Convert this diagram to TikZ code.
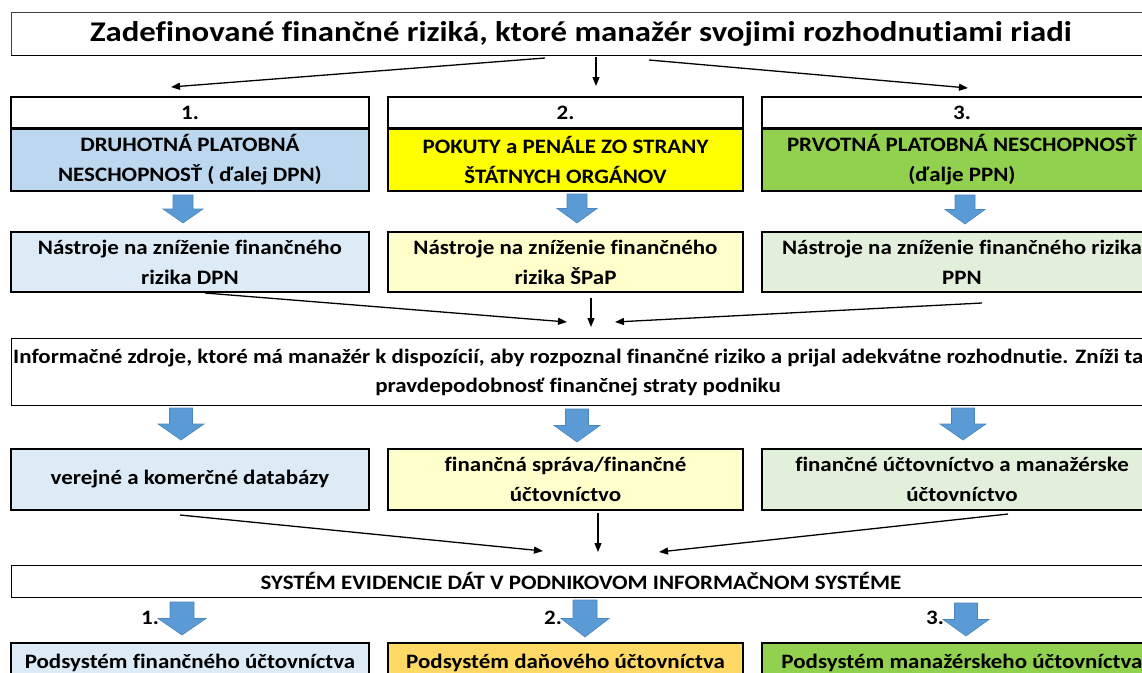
\documentclass[tikz,border=0pt]{standalone}
\usepackage{fontspec}
\setmainfont{Carlito}[Ligatures=NoCommon, FakeStretch=1.12]
\newfontfamily\headfam{Carlito}[Ligatures=NoCommon, FakeStretch=1.15]
\usetikzlibrary{arrows.meta}

\definecolor{dpnblue}{HTML}{BDD7EE}
\definecolor{spyellow}{HTML}{FFFF00}
\definecolor{ppngreen}{HTML}{92D050}
\definecolor{paleblue}{HTML}{DDEBF7}
\definecolor{paleyellow}{HTML}{FFFFCC}
\definecolor{palegreen}{HTML}{E2EFDA}
\definecolor{taxgold}{HTML}{FFD966}
\definecolor{arrowblue}{HTML}{5B9BD5}
\definecolor{arrowedge}{HTML}{4A86BE}

\newcommand{\bodyfont}{\fontsize{20.5}{30}\selectfont\bfseries}
\newcommand{\titlefont}{\headfam\fontsize{28.5}{32}\selectfont\bfseries}

% blue block arrow: centre x, top y, bottom y, head width
\newcommand{\bluearrow}[4]{%
  \filldraw[fill=arrowblue, draw=arrowedge, line width=0.6pt]
    ({#1-#4/4},#2) -- ({#1+#4/4},#2) -- ({#1+#4/4},{(#2+#3)/2})
    -- ({#1+#4/2},{(#2+#3)/2}) -- (#1,#3) -- ({#1-#4/2},{(#2+#3)/2})
    -- ({#1-#4/4},{(#2+#3)/2}) -- cycle;}

\tikzset{
  box/.style={draw=black, line width=1.5pt, inner sep=0pt, align=center, font=\bodyfont},
  widebox/.style={draw=black, line width=1pt, fill=white, inner sep=0pt, minimum width=1140},
  conn/.style={line width=1.3pt, -{Triangle[length=9pt,width=7pt]}},
}

\begin{document}
\begin{tikzpicture}[x=1pt, y=-1pt]
\useasboundingbox (0,0) rectangle (1142,672);
\clip (0,0) rectangle (1142,672);
\fill[white] (0,0) rectangle (1142,672);

% title
\node[widebox, draw=black!75, minimum height=43] (title) at (581,33.5) {};
\draw[black, line width=1.2pt] (title.south west) -- (title.south east);
\node[font=\titlefont] (titletext) at (581,34) {Zadefinované finančné riziká, ktoré manažér svojimi rozhodnutiami riadi};

% risks
\node[box, fill=white, minimum width=358, minimum height=31] (h1) at (190,112.5) {1.};
\node[box, fill=white, minimum width=355, minimum height=31] (h2) at (565.5,112.5) {2.};
\node[box, fill=white, minimum width=400, minimum height=31] (h3) at (962,112.5) {3.};
\node[box, fill=dpnblue, minimum width=358, minimum height=62] (r1) at (190,160) {DRUHOTNÁ PLATOBNÁ\\NESCHOPNOSŤ ( ďalej DPN)};
\node[box, fill=spyellow, minimum width=355, minimum height=62] (r2) at (565.5,160) {POKUTY a PENÁLE ZO STRANY\\ŠTÁTNYCH ORGÁNOV};
\node[box, fill=ppngreen, minimum width=400, minimum height=62] (r3) at (962,160) {PRVOTNÁ PLATOBNÁ NESCHOPNOSŤ\\(ďalje PPN)};

% tools
\node[box, fill=paleblue, minimum width=358, minimum height=60] (n1) at (190,262) {Nástroje na zníženie finančného\\rizika DPN};
\node[box, fill=paleyellow, minimum width=355, minimum height=60] (n2) at (565.5,262) {Nástroje na zníženie finančného\\rizika ŠPaP};
\node[box, fill=palegreen, minimum width=400, minimum height=60] (n3) at (962,262) {Nástroje na zníženie finančného rizika\\PPN};

% information sources
\node[widebox, minimum height=67] (info) at (581,371.5) {};
\node[font=\bodyfont, anchor=west, inner sep=0pt] (infoa) at (13,358) {Informačné zdroje, ktoré má manažér k dispozícií, aby rozpoznal finančné riziko a prijal adekvátne rozhodnutie. Zníži tak};
\node[font=\bodyfont, inner sep=0pt] (infob) at (578,387) {pravdepodobnosť finančnej straty podniku};

\node[box, fill=paleblue, minimum width=358, minimum height=61] (s1) at (190,479.5) {verejné a komerčné databázy};
\node[box, fill=paleyellow, minimum width=355, minimum height=61] (s2) at (565.5,479.5) {finančná správa/finančné\\účtovníctvo};
\node[box, fill=palegreen, minimum width=400, minimum height=61] (s3) at (962,479.5) {finančné účtovníctvo a manažérske\\účtovníctvo};

% data system
\node[widebox, minimum height=32, font=\bodyfont] (sys) at (581,581) {SYSTÉM EVIDENCIE DÁT V PODNIKOVOM INFORMAČNOM SYSTÉME};

\node[box, fill=paleblue, minimum width=358, minimum height=40] (p1) at (190,663) {Podsystém finančného účtovníctva};
\node[box, fill=taxgold, minimum width=355, minimum height=40] (p2) at (565.5,663) {Podsystém daňového účtovníctva};
\node[box, fill=ppngreen, minimum width=400, minimum height=40] (p3) at (962,663) {Podsystém manažérskeho účtovníctva};

\node[font=\bodyfont] (k1) at (150,618) {1.};
\node[font=\bodyfont] (k2) at (553,618) {2.};
\node[font=\bodyfont] (k3) at (935,618) {3.};

% block arrows
\bluearrow{183}{195}{223}{40}
\bluearrow{577}{194}{223}{40}
\bluearrow{965}{195}{224}{40}
\bluearrow{181}{408}{440}{46}
\bluearrow{577}{409}{442}{46}
\bluearrow{963}{408}{440}{46}
\bluearrow{182}{602}{635}{48}
\bluearrow{585}{600}{637}{48}
\bluearrow{966}{603}{636}{46}

% connectors
\coordinate (ta) at (171,87);
\coordinate (tb) at (596,86);
\coordinate (tc) at (968,88);
\draw[conn] ([xshift=-36]title.south |- 0,58) -- (ta);
\draw[conn] ([xshift=15]title.south |- 0,57) -- (tb);
\draw[conn] ([xshift=68]title.south |- 0,60) -- (tc);

\coordinate (ia) at (567,322);
\coordinate (ib) at (591,327);
\coordinate (ic) at (615,322);
\draw[conn] ([xshift=15]n1.south |- 0,293) -- (ia);
\draw[conn] ([xshift=25.5]n2.south |- 0,298) -- (ib);
\draw[conn] ([xshift=20]n3.south |- 0,303) -- (ic);

\coordinate (sa) at (543,551);
\coordinate (sb) at (598,552);
\coordinate (sc) at (659,552);
\draw[conn] ([xshift=-10]s1.south |- 0,515) -- (sa);
\draw[conn] ([xshift=32.5]s2.south |- 0,513) -- (sb);
\draw[conn] ([xshift=46]s3.south |- 0,514) -- (sc);
\end{tikzpicture}
\end{document}
